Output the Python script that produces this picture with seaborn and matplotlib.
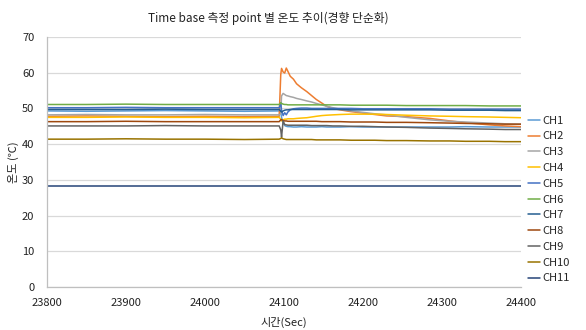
import numpy as np
import pandas as pd
import matplotlib
matplotlib.use("Agg")
import matplotlib.pyplot as plt
import seaborn as sns

# ---- data ----
time_sec = [23800, 23850, 23900, 23950, 24000, 24050, 24094, 24096, 24097, 24099,
            24101, 24103, 24105, 24108, 24112, 24116, 24122, 24129, 24135, 24141,
            24148, 24154, 24162, 24171, 24185, 24200, 24215, 24230, 24255, 24285,
            24310, 24330, 24360, 24380, 24400]

ch1 = [49.3, 49.2, 49.3, 49.4, 49.3, 49.2, 49.3, 49.0, 47.5, 46.0,
       45.2, 45.0, 44.9, 44.9, 44.8, 44.8, 44.9, 44.8, 44.8, 44.8,
       44.9, 44.8, 44.8, 44.8, 44.9, 44.8, 44.8, 44.8, 44.8, 44.8,
       44.8, 44.9, 44.8, 44.8, 44.8]
ch2 = [47.8, 47.9, 47.8, 47.7, 47.8, 47.7, 47.8, 59.5, 61.2, 60.2,
       59.9, 61.3, 60.4, 59.0, 58.2, 56.9, 55.8, 54.7, 53.6, 52.5,
       51.5, 50.6, 50.0, 49.6, 49.1, 48.7, 48.3, 47.9, 47.7, 47.2,
       46.5, 46.0, 45.4, 45.1, 44.9]
ch3 = [48.2, 48.3, 48.2, 48.2, 48.3, 48.2, 48.2, 48.5, 53.5, 54.2,
       53.9, 53.6, 53.5, 53.3, 53.1, 52.8, 52.5, 52.1, 51.8, 51.4,
       51.0, 50.6, 50.2, 49.8, 49.3, 48.9, 48.5, 48.2, 47.5, 46.8,
       46.4, 46.2, 45.9, 45.7, 45.6]
ch4 = [47.5, 47.5, 47.6, 47.5, 47.5, 47.4, 47.5, 47.0, 46.5, 46.8,
       47.0, 47.0, 47.1, 47.1, 47.1, 47.2, 47.3, 47.4, 47.6, 47.8,
       48.0, 48.1, 48.2, 48.3, 48.4, 48.4, 48.4, 48.3, 48.1, 47.9,
       47.8, 47.7, 47.6, 47.5, 47.4]
ch5 = [50.2, 50.2, 50.3, 50.2, 50.2, 50.2, 50.2, 51.5, 49.5, 48.0,
       48.8, 48.2, 49.0, 49.6, 49.9, 50.0, 50.1, 50.1, 50.0, 50.0,
       50.0, 50.0, 50.0, 50.0, 50.0, 49.9, 49.9, 49.9, 49.9, 49.9,
       49.8, 49.8, 49.8, 49.8, 49.8]
ch6 = [51.1, 51.1, 51.2, 51.1, 51.1, 51.1, 51.1, 51.6, 51.4, 51.2,
       51.1, 51.1, 51.0, 51.0, 51.0, 51.0, 51.0, 51.0, 51.0, 51.0,
       51.0, 51.0, 51.0, 51.0, 50.9, 50.9, 50.9, 50.9, 50.8, 50.8,
       50.8, 50.8, 50.7, 50.7, 50.7]
ch7 = [49.7, 49.7, 49.7, 49.8, 49.7, 49.7, 49.7, 49.2, 49.0, 49.3,
       49.5, 49.6, 49.6, 49.7, 49.7, 49.7, 49.7, 49.7, 49.7, 49.7,
       49.7, 49.7, 49.7, 49.7, 49.6, 49.6, 49.6, 49.6, 49.6, 49.6,
       49.5, 49.5, 49.5, 49.4, 49.4]
ch8 = [46.3, 46.3, 46.4, 46.3, 46.3, 46.3, 46.3, 46.8, 46.9, 46.6,
       46.5, 46.5, 46.4, 46.4, 46.4, 46.4, 46.4, 46.4, 46.4, 46.4,
       46.3, 46.3, 46.3, 46.3, 46.2, 46.2, 46.2, 46.1, 46.1, 46.0,
       45.9, 45.8, 45.7, 45.6, 45.6]
ch9 = [45.1, 45.1, 45.1, 45.2, 45.1, 45.1, 45.1, 44.0, 42.0, 46.5,
       45.5, 45.4, 45.3, 45.3, 45.3, 45.3, 45.3, 45.3, 45.2, 45.2,
       45.2, 45.2, 45.1, 45.1, 45.0, 45.0, 44.9, 44.8, 44.7, 44.5,
       44.4, 44.3, 44.2, 44.1, 44.1]
ch10 = [41.4, 41.4, 41.5, 41.4, 41.4, 41.3, 41.4, 41.6, 41.8, 41.5,
        41.4, 41.3, 41.3, 41.3, 41.3, 41.3, 41.3, 41.3, 41.3, 41.2,
        41.2, 41.2, 41.2, 41.2, 41.1, 41.1, 41.1, 41.0, 41.0, 40.9,
        40.9, 40.8, 40.8, 40.7, 40.7]
ch11 = [28.3, 28.3, 28.3, 28.3, 28.3, 28.3, 28.3, 28.3, 28.3, 28.3,
        28.3, 28.3, 28.3, 28.3, 28.3, 28.3, 28.3, 28.3, 28.3, 28.3,
        28.3, 28.3, 28.3, 28.3, 28.3, 28.3, 28.3, 28.3, 28.3, 28.3,
        28.3, 28.3, 28.3, 28.3, 28.3]

channels = ["CH1", "CH2", "CH3", "CH4", "CH5", "CH6", "CH7", "CH8", "CH9", "CH10", "CH11"]
series = [ch1, ch2, ch3, ch4, ch5, ch6, ch7, ch8, ch9, ch10, ch11]
colors = ["#5B9BD5", "#ED7D31", "#A5A5A5", "#FFC000", "#4472C4", "#70AD47",
          "#255E91", "#9E480E", "#636363", "#997300", "#264478"]
x_ticks = [23800, 23900, 24000, 24100, 24200, 24300, 24400]
y_ticks = [0, 10, 20, 30, 40, 50, 60, 70]

title = "Time base 측정 point 별 온도 추이(경향 단순화)"
x_label = "시간(Sec)"
y_label = "온도 (℃)"

# ---- build long-form table ----
df = pd.DataFrame({"time": time_sec})
for name, vals in zip(channels, series):
    df[name] = vals
long = df.melt(id_vars="time", var_name="channel", value_name="temp")

sns.set_theme(style="white")
plt.rcParams["font.family"] = ["Noto Sans CJK KR", "DejaVu Sans"]

fig = plt.figure(figsize=(5.86, 3.30), dpi=100)
ax = fig.add_axes([0.080, 0.130, 0.809, 0.758])

sns.lineplot(data=long, x="time", y="temp", hue="channel", hue_order=channels,
             palette=colors, linewidth=1.1, ax=ax, legend=True)

ax.set_xlim(23800, 24400)
ax.set_ylim(0, 70)
ax.set_xticks(x_ticks)
ax.set_yticks(y_ticks)
ax.set_xticklabels([str(v) for v in x_ticks])
ax.set_yticklabels([str(v) for v in y_ticks])
ax.yaxis.grid(True, color="#D9D9D9", linewidth=0.9)
ax.set_axisbelow(True)
for s in ["top", "right"]:
    ax.spines[s].set_visible(False)
for s in ["left", "bottom"]:
    ax.spines[s].set_color("#BFBFBF")
    ax.spines[s].set_linewidth(0.9)
ax.tick_params(axis="both", labelsize=8, colors="#222222", length=0, pad=3)
ax.tick_params(axis="y", length=3, color="#BFBFBF", direction="out", pad=6)
ax.tick_params(axis="x", pad=8)

fig.text(268 / 586, 1 - 18 / 330, title, ha="center", va="center",
         fontsize=8.5, color="#222222")
ax.set_xlabel(x_label, fontsize=8, color="#222222", labelpad=6)
ax.set_ylabel(y_label, fontsize=8, color="#222222", labelpad=2)

leg = ax.legend(loc="center left", bbox_to_anchor=(1.015, 0.35), frameon=False,
                fontsize=8, handlelength=1.1, handletextpad=0.15,
                labelspacing=0.52, borderpad=0, borderaxespad=0)
for line in leg.get_lines():
    line.set_linewidth(1.1)

fig.savefig("out.png", dpi=100)
